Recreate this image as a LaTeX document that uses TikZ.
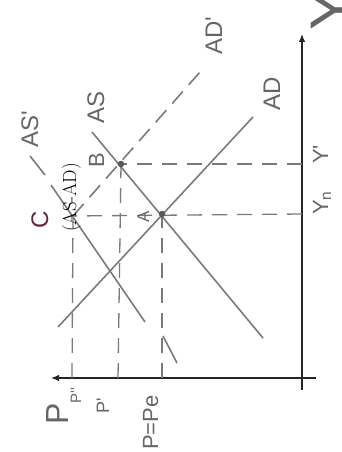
\documentclass[tikz,border=0pt]{standalone}
\usepackage{fontspec}
\newfontfamily\hand{Liberation Sans}
\usetikzlibrary{arrows.meta}
\definecolor{pencil}{HTML}{7A7A7A}
\definecolor{penciltext}{HTML}{666666}
\definecolor{maroon}{HTML}{6B2242}
\begin{document}
\begin{tikzpicture}[x=1pt,y=-1pt,
  curve/.style={draw=pencil, line width=1.6pt},
  guide/.style={draw=pencil, line width=1.3pt, dash pattern=on 15pt off 10pt},
  axisline/.style={draw=black!85, line width=1.1pt},
  lbl/.style={text=penciltext, rotate=90, inner sep=0pt, anchor=base west},
  hw/.style={font=\hand\fontsize{#1}{#1}\selectfont},
  dot/.style={circle, fill=black!65, inner sep=0pt, minimum size=6.5pt}]
\useasboundingbox (0,0) rectangle (342,452);
% axes
\coordinate (ybot) at (302,390);
\coordinate (ytip) at (302,34);
\coordinate (pend) at (316,378);
\coordinate (ptip) at (51,378);
\draw[axisline,-{Latex[length=8pt,width=6.5pt]}] (ybot) -- (ytip);
\draw[axisline,-{Latex[length=8pt,width=6.5pt]}] (pend) -- (ptip);
% key points
\coordinate (A) at (162,214);
\coordinate (B) at (121,164);
\coordinate (C) at (73,216);
% curves
\coordinate (AD1) at (58,327);
\coordinate (AD2) at (253,117);
\coordinate (AS1) at (92,132);
\coordinate (AS2) at (263,338);
\coordinate (ASp1) at (30,156);
\coordinate (ASp2) at (45,175);
\coordinate (ASp3) at (51,185);
\coordinate (ASp4) at (145,322);
\coordinate (ADp2) at (200,72);
\coordinate (s1) at (163,336);
\coordinate (s2) at (177,363);
\draw[curve] (AD1) -- (AD2);
\draw[curve] (AS1) -- (AS2);
\draw[curve] (ASp1) -- (ASp2);
\draw[curve] (ASp3) -- (ASp4);
\draw[curve] (s1) -- (s2);
\draw[curve, dash pattern=on 16pt off 9pt] (C) -- (ADp2);
% guides
\coordinate (yB) at (302,164);
\coordinate (yA) at (302,214);
\coordinate (pA) at (162,378);
\coordinate (pB) at (118,378);
\coordinate (pC) at (72,378);
\draw[guide] (yB) -- (B);
\draw[guide] (yA) -- (C);
\draw[guide] (pA) -- (A);
\draw[guide] (pB) -- (B);
\draw[guide] (pC) -- (C);
% dots
\node[dot] (dA) at (A) {};
\node[dot] (dB) at (B) {};
% labels
\node[lbl, hw=24] (lASp) at (38,148) {AS'};
\node[lbl, hw=24] (lAS) at (104,124) {AS};
\node[lbl, hw=22] (lB) at (104,168) {B};
\node[lbl, hw=17] (lA) at (149,223) {A};
\node[lbl, hw=24] (lADp) at (222,55) {AD'};
\node[lbl, hw=24] (lAD) at (280,111) {AD};
\node[lbl, hw=22] (lYp) at (328,164) {Y'};
\node[lbl, hw=22] (lYn) at (328,215) {Y\textsubscript{n}};
\node[lbl, hw=60, anchor=north] (lY) at (311,10) {Y};
\node[lbl, hw=32] (lP) at (68,425) {P};
\node[lbl, hw=15] (lPpp) at (81,404) {P''};
\node[lbl, hw=18] (lPp) at (109,414) {P'};
\node[lbl, hw=22] (lPe) at (158,450) {P=Pe};
\node[lbl, text=maroon, hw=24] (lC) at (48,229) {C};
\node[lbl, text=black, font=\fontsize{19}{19}\selectfont] (lASAD) at (76,232) {(AS-AD)};
\end{tikzpicture}
\end{document}
